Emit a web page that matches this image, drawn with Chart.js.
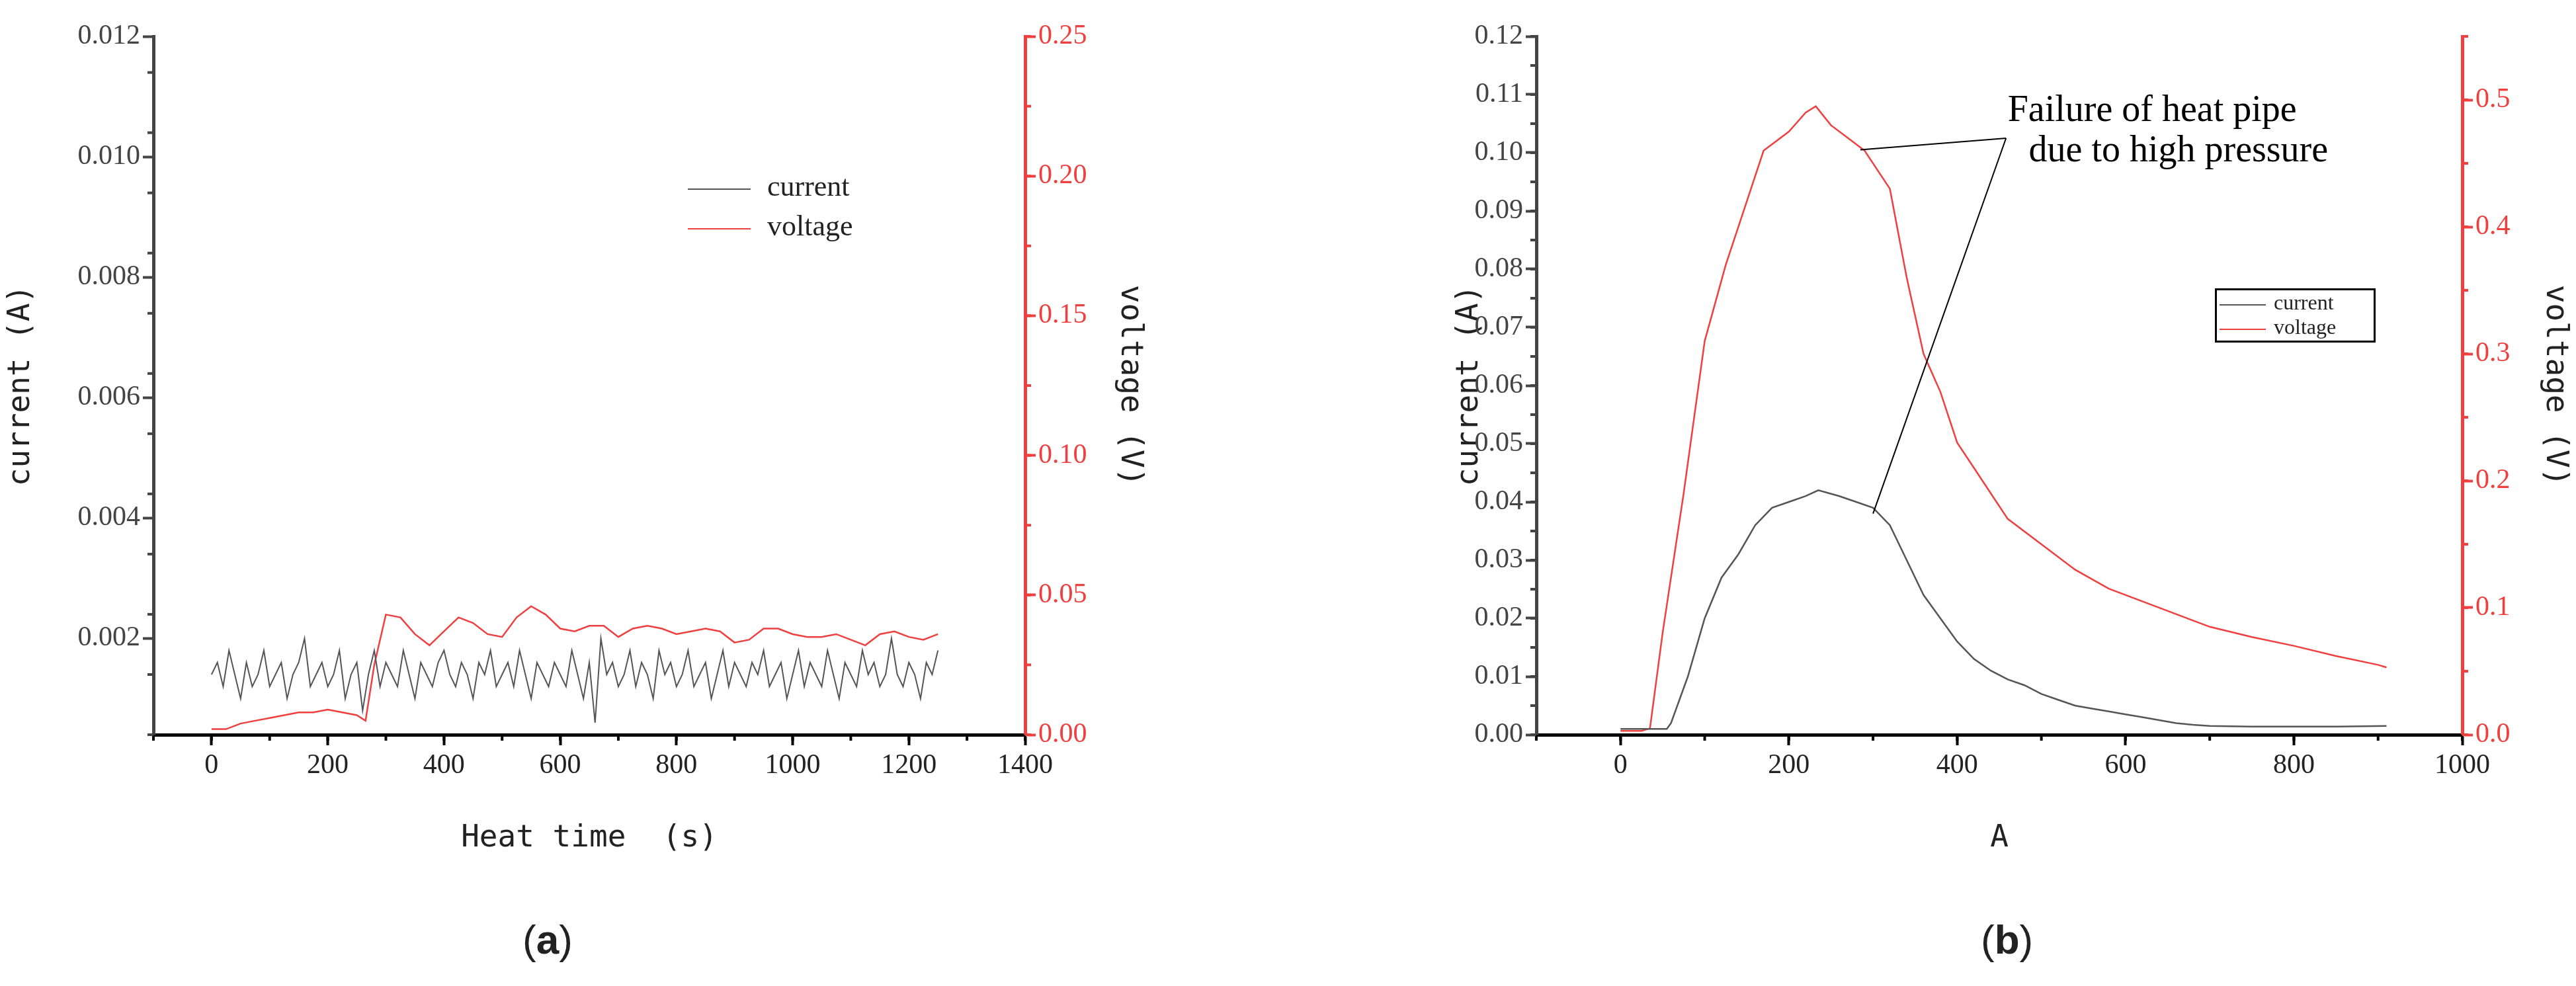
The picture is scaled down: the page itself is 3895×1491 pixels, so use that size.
<!DOCTYPE html>
<html><head><meta charset="utf-8">
<script src="https://cdn.jsdelivr.net/npm/chart.js@4"></script>
<style>
body{margin:0;background:#fff;width:3895px;height:1491px;position:relative;overflow:hidden;font-family:"Liberation Serif",serif}
canvas{position:absolute}
.lbl{position:absolute;font-family:"Liberation Serif",serif;color:#222}
</style></head><body>
<canvas id="ca" style="left:0;top:0" width="1740" height="1300"></canvas>
<canvas id="cb" style="left:2190px;top:0" width="1705" height="1300"></canvas>
<div class="lbl" style="left:1040px;top:252px;font-size:44px;line-height:60px">
<div><span style="display:inline-block;width:95px;border-top:2px solid #555;vertical-align:middle;margin-right:25px"></span>current</div>
<div><span style="display:inline-block;width:95px;border-top:2px solid #ef3f3f;vertical-align:middle;margin-right:25px"></span>voltage</div></div>
<div class="lbl" style="left:3349px;top:436px;width:233px;height:76px;border:3px solid #000;font-size:32px;line-height:37px;padding-left:4px">
<div><span style="display:inline-block;width:70px;border-top:2px solid #555;vertical-align:middle;margin-right:12px"></span>current</div>
<div><span style="display:inline-block;width:70px;border-top:2px solid #ef3f3f;vertical-align:middle;margin-right:12px"></span>voltage</div></div>
<div class="lbl" style="left:790px;top:1385px;font-size:62px;font-family:'Liberation Sans'">(<b>a</b>)</div>
<div class="lbl" style="left:2995px;top:1385px;font-size:62px;font-family:'Liberation Sans'">(<b>b</b>)</div>
<script>
// ---- chart (a) data ----
const aVoltX=[0,25,50,75,100,125,150,175,200,225,250,265,280,300,325,350,375,400,425,450,475,500,525,550,575,600,625,650,675,700,725,750,775,800,825,850,875,900,925,950,975,1000,1025,1050,1075,1100,1125,1150,1175,1200,1225,1250];
const aVolt=[0.002,0.002,0.004,0.005,0.006,0.007,0.008,0.008,0.009,0.008,0.007,0.005,0.025,0.043,0.042,0.036,0.032,0.037,0.042,0.040,0.036,0.035,0.042,0.046,0.043,0.038,0.037,0.039,0.039,0.035,0.038,0.039,0.038,0.036,0.037,0.038,0.037,0.033,0.034,0.038,0.038,0.036,0.035,0.035,0.036,0.034,0.032,0.036,0.037,0.035,0.034,0.036];
const aCurX=[0,10,20,30,40,50,60,70,80,90,100,110,120,130,140,150,160,170,180,190,200,210,220,230,240,250,260,270,280,290,300,310,320,330,340,350,360,370,380,390,400,410,420,430,440,450,460,470,480,490,500,510,520,530,540,550,560,570,580,590,600,610,620,630,640,650,660,670,680,690,700,710,720,730,740,750,760,770,780,790,800,810,820,830,840,850,860,870,880,890,900,910,920,930,940,950,960,970,980,990,1000,1010,1020,1030,1040,1050,1060,1070,1080,1090,1100,1110,1120,1130,1140,1150,1160,1170,1180,1190,1200,1210,1220,1230,1240,1250];
const aCur=[0.0014,0.0016,0.0012,0.0018,0.0014,0.0010,0.0016,0.0012,0.0014,0.0018,0.0012,0.0014,0.0016,0.0010,0.0014,0.0016,0.0020,0.0012,0.0014,0.0016,0.0012,0.0014,0.0018,0.0010,0.0014,0.0016,0.0008,0.0014,0.0018,0.0012,0.0016,0.0014,0.0012,0.0018,0.0014,0.0010,0.0016,0.0014,0.0012,0.0016,0.0018,0.0014,0.0012,0.0016,0.0014,0.0010,0.0016,0.0014,0.0018,0.0012,0.0014,0.0016,0.0012,0.0018,0.0014,0.0010,0.0016,0.0014,0.0012,0.0016,0.0014,0.0012,0.0018,0.0014,0.0010,0.0016,0.0006,0.0020,0.0014,0.0016,0.0012,0.0014,0.0018,0.0012,0.0016,0.0014,0.0010,0.0018,0.0014,0.0016,0.0012,0.0014,0.0018,0.0012,0.0014,0.0016,0.0010,0.0014,0.0018,0.0012,0.0016,0.0014,0.0012,0.0016,0.0014,0.0018,0.0012,0.0014,0.0016,0.0010,0.0014,0.0018,0.0012,0.0016,0.0014,0.0012,0.0018,0.0014,0.0010,0.0016,0.0014,0.0012,0.0018,0.0014,0.0016,0.0012,0.0014,0.0020,0.0014,0.0012,0.0016,0.0014,0.0010,0.0016,0.0014,0.0018];
const aXTicks=[0,200,400,600,800,1000,1200,1400];
const aYTicks=[0.002,0.004,0.006,0.008,0.010,0.012];
const aY2Ticks=[0.00,0.05,0.10,0.15,0.20,0.25];
// ---- chart (b) data ----
const bCurX=[0,20,40,55,60,80,100,120,140,160,180,200,220,235,260,280,300,320,340,360,380,400,420,440,460,480,500,520,540,560,580,600,620,640,660,680,700,750,800,850,910];
const bCur=[0.001,0.001,0.001,0.001,0.002,0.010,0.020,0.027,0.031,0.036,0.039,0.040,0.041,0.042,0.041,0.040,0.039,0.036,0.030,0.024,0.020,0.016,0.013,0.011,0.0095,0.0085,0.007,0.006,0.005,0.0045,0.004,0.0035,0.003,0.0025,0.002,0.0017,0.0015,0.0014,0.0014,0.0014,0.0015];
const bVoltX=[0,25,35,50,75,100,125,150,170,200,220,232,250,270,290,320,340,360,380,400,420,440,460,500,540,580,620,660,700,750,800,850,900,910];
const bVolt=[0.003,0.003,0.005,0.08,0.19,0.31,0.37,0.42,0.46,0.475,0.49,0.495,0.48,0.47,0.46,0.43,0.36,0.30,0.27,0.23,0.21,0.19,0.17,0.15,0.13,0.115,0.105,0.095,0.085,0.077,0.07,0.062,0.055,0.053];
const bXTicks=[0,200,400,600,800,1000];
const bYTicks=[0.00,0.01,0.02,0.03,0.04,0.05,0.06,0.07,0.08,0.09,0.10,0.11,0.12];
const bY2Ticks=[0.0,0.1,0.2,0.3,0.4,0.5];
const annoText=["Failure of heat pipe","due to high pressure"];

const GRAY='#555', RED='#ef3f3f';
const pts=(xs,ys)=>xs.map((x,i)=>({x,y:ys[i]}));
const tickFont={family:'Liberation Serif',size:42};
const titleFont={family:'DejaVu Sans Mono',size:46};

function minorTicks(opts){return {id:'minor',afterDraw(ch){const c=ch.ctx;c.save();
 for(const [id,step,col] of opts){const s=ch.scales[id];c.strokeStyle=col;c.lineWidth=4;
  for(let v=s.min;v<=s.max+1e-9;v+=step){
   if(s.axis==='x'){const p=s.getPixelForValue(v);c.beginPath();c.moveTo(p,s.top);c.lineTo(p,s.top+9);c.stroke();}
   else{const p=s.getPixelForValue(v);const l=s.position==='left'?s.right:s.left;const d=s.position==='left'?-9:9;c.beginPath();c.moveTo(l,p);c.lineTo(l+d,p);c.stroke();}}}
 c.restore();}};}

function axisX(ticks,min,max,title,w){return {type:'linear',min,max,afterBuildTicks:s=>{s.ticks=ticks.map(v=>({value:v}));},
 afterFit:s=>{s.height=w;},border:{color:'#000',width:5},grid:{drawOnChartArea:false,tickLength:16,tickWidth:4,color:'#000'},
 ticks:{font:tickFont,color:'#222',padding:6,callback:v=>String(v)},title:{display:true,text:title,font:titleFont,color:'#222',padding:{top:2}}};}
function axisY(pos,ticks,min,max,title,w,col,fmt){return {type:'linear',position:pos,min,max,afterBuildTicks:s=>{s.ticks=ticks.map(v=>({value:v}));},
 afterFit:s=>{s.width=w;},border:{color:col,width:5},grid:{drawOnChartArea:false,tickLength:16,tickWidth:4,color:col},
 ticks:{font:tickFont,color:col,padding:4,callback:v=>v.toFixed(fmt)},title:{display:true,text:title,font:titleFont,color:'#222'}};}

new Chart(document.getElementById('ca'),{type:'line',
 data:{datasets:[
  {label:'current',data:pts(aCurX,aCur),borderColor:GRAY,borderWidth:2,pointRadius:0,yAxisID:'y'},
  {label:'voltage',data:pts(aVoltX,aVolt),borderColor:RED,borderWidth:2.5,pointRadius:0,yAxisID:'y2'}]},
 options:{responsive:false,animation:false,parsing:false,layout:{padding:{top:55,left:0,right:0,bottom:0}},
  plugins:{legend:{display:false},tooltip:{enabled:false}},
  scales:{x:axisX(aXTicks,-100,1400,'Heat time  (s)',189),
   y:axisY('left',aYTicks,0.0004,0.012,'current (A)',232,'#444',3),
   y2:axisY('right',aY2Ticks,0,0.25,'voltage (V)',190,RED,2)}},
 plugins:[minorTicks([['x',100,'#000'],['y',0.001,'#444'],['y2',0.025,RED]])]});

const anno={id:'anno',afterDraw(ch){const c=ch.ctx,x=ch.scales.x,y=ch.scales.y;c.save();
 c.font='56px "Liberation Serif"';c.fillStyle='#000';c.textAlign='left';
 c.fillText(annoText[0],x.getPixelForValue(460),y.getPixelForValue(0.1055));
 c.fillText(annoText[1],x.getPixelForValue(485),y.getPixelForValue(0.0985));
 c.strokeStyle='#000';c.lineWidth=2;
 const ox=x.getPixelForValue(458),oy=y.getPixelForValue(0.1025);
 c.beginPath();c.moveTo(ox,oy);c.lineTo(x.getPixelForValue(285),y.getPixelForValue(0.1005));c.stroke();
 c.beginPath();c.moveTo(ox,oy);c.lineTo(x.getPixelForValue(300),y.getPixelForValue(0.038));c.stroke();
 c.restore();}};

new Chart(document.getElementById('cb'),{type:'line',
 data:{datasets:[
  {label:'current',data:pts(bCurX,bCur),borderColor:GRAY,borderWidth:2.5,pointRadius:0,yAxisID:'y'},
  {label:'voltage',data:pts(bVoltX,bVolt),borderColor:RED,borderWidth:2.5,pointRadius:0,yAxisID:'y2'}]},
 options:{responsive:false,animation:false,parsing:false,layout:{padding:{top:55,left:0,right:0,bottom:0}},
  plugins:{legend:{display:false},tooltip:{enabled:false}},
  scales:{x:axisX(bXTicks,-100,1000,'A',189),
   y:axisY('left',bYTicks,0,0.12,'current (A)',133,'#444',2),
   y2:axisY('right',bY2Ticks,0,0.55,'voltage (V)',172,RED,1)}},
 plugins:[minorTicks([['x',100,'#000'],['y',0.005,'#444'],['y2',0.05,RED]]),anno]});
</script></body></html>
